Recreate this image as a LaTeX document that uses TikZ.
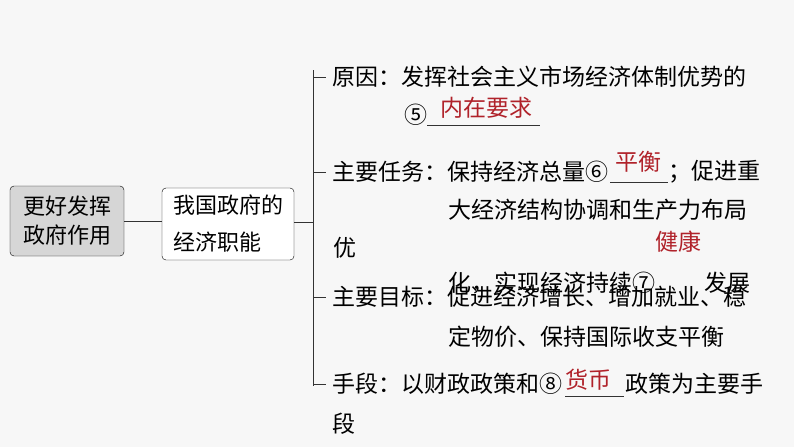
\documentclass[tikz,border=0pt]{standalone}
\usepackage{fontspec}
\setmainfont{Noto Sans CJK SC}
\begin{document}
\begin{tikzpicture}[x=1pt,y=-1pt,
  t/.style={anchor=west,inner sep=0pt,font=\fontsize{23}{27}\selectfont},
  r/.style={t,text=ans},
  ln/.style={line width=0.8pt,black!80}]
\definecolor{ans}{HTML}{B0222A}
\fill[white!97!black] (0,0) rectangle (794,447);
\useasboundingbox (0,0) rectangle (794,447);
\node[draw,rounded corners=4pt,fill=black!16,minimum width=114,minimum height=70,inner sep=2pt,align=left,font=\fontsize{22}{29}\selectfont] (a) at (67,221) {更好发挥\\政府作用};
\node[draw,rounded corners=4pt,fill=white,minimum width=132,minimum height=72,inner sep=2pt,align=left,font=\fontsize{22}{37}\selectfont] (b) at (228,224) {我国政府的\\经济职能};
\coordinate (v) at (313,222);
\coordinate (vt) at (313,70);
\coordinate (vb) at (313,386);
\draw[ln] (a.east) -- (b.west|-a.east);
\draw[ln] (b.east|-v) -- (v);
\draw[ln] (vt) -- (vb);
\foreach \y in {77,172,297,384} \draw[ln] (313,\y) -- (326,\y);
\node[t] (n1) at (332,77) {原因：发挥社会主义市场经济体制优势的};
\node[t] (n2) at (404,115) {⑤};
\draw[ln] (427,125) -- (540,125);
\node[r] (n3) at (440,108) {内在要求};
\node[t] (n4) at (332,172) {主要任务：保持经济总量⑥};
\draw[ln] (610,182) -- (668,182);
\node[r] (n5) at (615,162) {平衡};
\node[t] (n6) at (668,172) {；促进重};
\node[t] (n7) at (448,210) {大经济结构协调和生产力布局};
\node[t] (n8) at (333,248) {优};
\node[r] (n9) at (655,242) {健康};
\node[t] (n10) at (448,283) {化，实现经济持续⑦};
\node[t] (n11) at (704,283) {发展};
\node[t] (n12) at (332,297) {主要目标：促进经济增长、增加就业、稳};
\node[t] (n13) at (448,337) {定物价、保持国际收支平衡};
\node[t] (n14) at (332,384) {手段：以财政政策和⑧};
\draw[ln] (565,396) -- (624,396);
\node[r] (n15) at (565,380) {货币};
\node[t] (n16) at (625,384) {政策为主要手};
\node[t] (n17) at (332,424) {段};
\end{tikzpicture}
\end{document}
